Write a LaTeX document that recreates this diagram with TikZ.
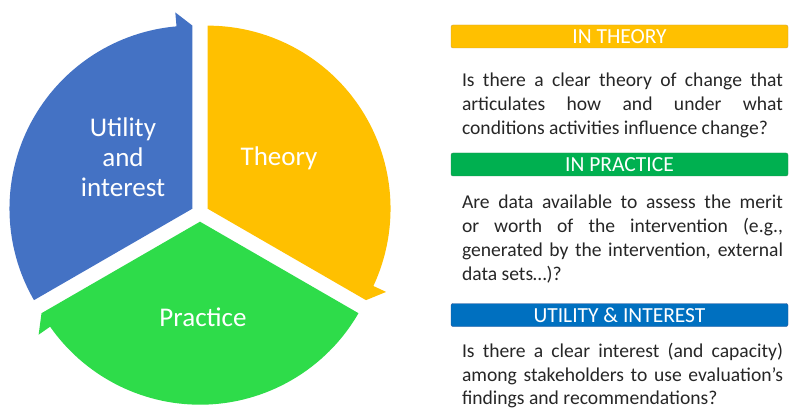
\documentclass[tikz,border=0pt]{standalone}
\usepackage{fontspec}
\setmainfont{Carlito}
\usepackage{tikz}
\usetikzlibrary{positioning}

\definecolor{theorycol}{HTML}{FFC000}
\definecolor{practicecol}{HTML}{2EDC4A}
\definecolor{utilitycol}{HTML}{4472C4}
\definecolor{theoryedge}{HTML}{C9A045}
\definecolor{practicebar}{HTML}{00B050}
\definecolor{practiceedge}{HTML}{2E8B57}
\definecolor{utilitybar}{HTML}{0070C0}
\definecolor{utilityedge}{HTML}{2F5597}

\begin{document}
\begin{tikzpicture}[x=1pt,y=1pt,node distance=60pt,on grid]
    \tikzset{wedgetext/.style={text=white,align=center,font=\fontsize{27}{30}\selectfont}}
    \tikzset{headbar/.style={rectangle,rounded corners=2pt,minimum width=337pt,minimum height=23pt,inner sep=0pt,text=white,font=\fontsize{21.5}{22}\selectfont}}
    \tikzset{bodytext/.style={text width=321pt,align=justify,inner sep=0pt,text=black!85,font=\fontsize{19.6}{24.2}\selectfont}}
    \useasboundingbox (0,0) rectangle (789,410);

    % the three segments of the cycle
    \begin{scope}[shift={(200,197)}]
    \fill[theorycol,shift={(30:8.7)}] (0,0) -- (90:183) arc[start angle=90,end angle=-25,radius=183] -- (-25:197) -- (-30:183) -- cycle;
    \fill[practicecol,shift={(-90:8.7)}] (0,0) -- (-30:183) arc[start angle=-30,end angle=-145,radius=183] -- (-145:197) -- (-150:183) -- cycle;
    \fill[utilitycol,shift={(150:8.7)}] (0,0) -- (210:183) arc[start angle=210,end angle=95,radius=183] -- (95:197) -- (90:183) -- cycle;
    \end{scope}

    \node[wedgetext] (utility) at (123,253) {Utility\\and\\interest};
    \node[wedgetext] (theory) at (279,252) {Theory};
    \node[wedgetext] (practice) at (203,93) {Practice};

    % questions on the right
    \node[headbar,fill=theorycol,draw=theoryedge] (intheory) at (619.5,373.5) {IN THEORY};
    \node[bodytext] (qtheory) [below = 69pt of intheory, xshift=3pt] {Is there a clear theory of change that\linebreak articulates how and under what\linebreak conditions activities influence change?};
    \node[headbar,fill=practicebar,draw=practiceedge] (inpractice) [below = 59pt of qtheory, xshift=-3pt] {IN PRACTICE};
    \node[bodytext] (qpractice) [below = 74.5pt of inpractice, xshift=3pt] {Are data available to assess the merit\linebreak or worth of the intervention (e.g.,\linebreak generated by the intervention, external\linebreak data sets\ldots)?};
    \node[headbar,fill=utilitybar,draw=utilityedge] (inutility) [below = 76pt of qpractice, xshift=-3pt] {UTILITY \& INTEREST};
    \node[bodytext,font=\fontsize{19.6}{23.5}\selectfont] (qutility) [below = 61pt of inutility, xshift=3pt] {Is there a clear interest (and capacity)\linebreak among stakeholders to use evaluation’s\linebreak findings and recommendations?};
\end{tikzpicture}
\end{document}
